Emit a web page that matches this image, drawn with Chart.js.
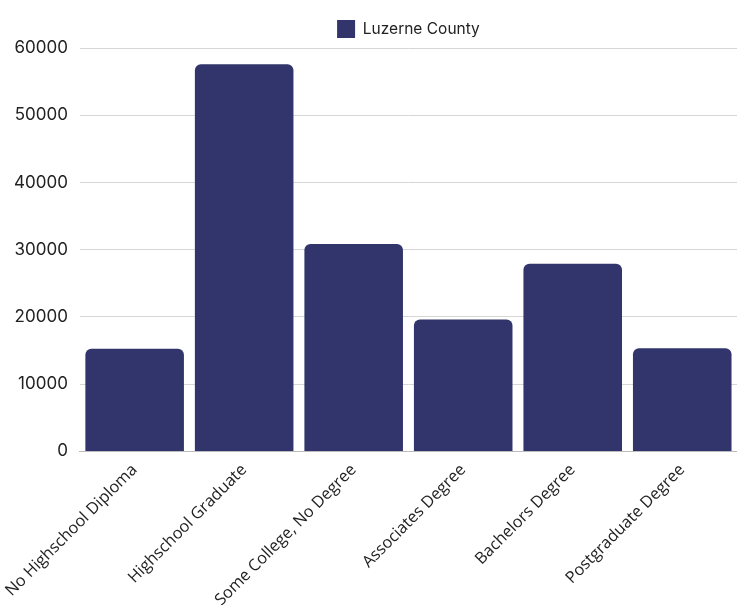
<!DOCTYPE html>
<html lang="en">
<head>
    <meta charset="UTF-8">
    <title>Luzerne County Education</title>
    <script src="https://cdn.jsdelivr.net/npm/chart.js"></script>
    <style>
        html, body { margin: 0; padding: 0; background: #fff; }
        #wrap { width: 737px; height: 605px; }
    </style>
</head>
<body>
    <div id="wrap"><canvas id="eduChart"></canvas></div>
    <script>
        var categories = ['No Highschool Diploma', 'Highschool Graduate', 'Some College, No Degree', 'Associates Degree', 'Bachelors Degree', 'Postgraduate Degree'];
        var luzerneValues = [15250, 57600, 30850, 19600, 27900, 15350];
        var yTicks = [0, 10000, 20000, 30000, 40000, 50000, 60000];

        Chart.defaults.font.family = 'Inter, "Noto Sans", sans-serif';
        Chart.defaults.color = '#222';

        // centre the legend over the plot area instead of the whole canvas
        var legendOverArea = {
            id: 'legendOverArea',
            beforeDraw: function (chart) {
                if (chart.legend) {
                    chart.legend.left = chart.chartArea.left;
                    chart.legend.right = chart.chartArea.right;
                }
            }
        };

        var ctx = document.getElementById('eduChart').getContext('2d');
        var eduChart = new Chart(ctx, {
            type: 'bar',
            data: {
                labels: categories,
                datasets: [{
                    label: 'Luzerne County',
                    data: luzerneValues,
                    backgroundColor: '#31356b',
                    borderRadius: 6,
                    borderSkipped: 'bottom',
                    categoryPercentage: 0.9,
                    barPercentage: 1.0
                }]
            },
            options: {
                responsive: true,
                maintainAspectRatio: false,
                animation: false,
                layout: { padding: { left: 2, right: 0, top: 8, bottom: -6 } },
                plugins: {
                    legend: {
                        labels: { boxWidth: 18, boxHeight: 18, padding: 12, font: { size: 15.5 }, color: '#222' }
                    },
                    tooltip: { enabled: false }
                },
                scales: {
                    x: {
                        grid: { display: false },
                        border: { color: '#bbb' },
                        ticks: { padding: 1, maxRotation: 45, minRotation: 45, font: { family: '"Open Sans", sans-serif', size: 16.3 }, color: '#222' }
                    },
                    y: {
                        min: 0,
                        max: 60000,
                        afterBuildTicks: function (axis) {
                            axis.ticks = yTicks.map(function (v) { return { value: v }; });
                        },
                        grid: { color: '#d6d6d6', drawTicks: false },
                        border: { display: false },
                        ticks: { padding: 12, font: { size: 17 }, color: '#222', callback: function (v) { return String(v); } }
                    }
                }
            },
            plugins: [legendOverArea]
        });
    </script>
</body>
</html>
